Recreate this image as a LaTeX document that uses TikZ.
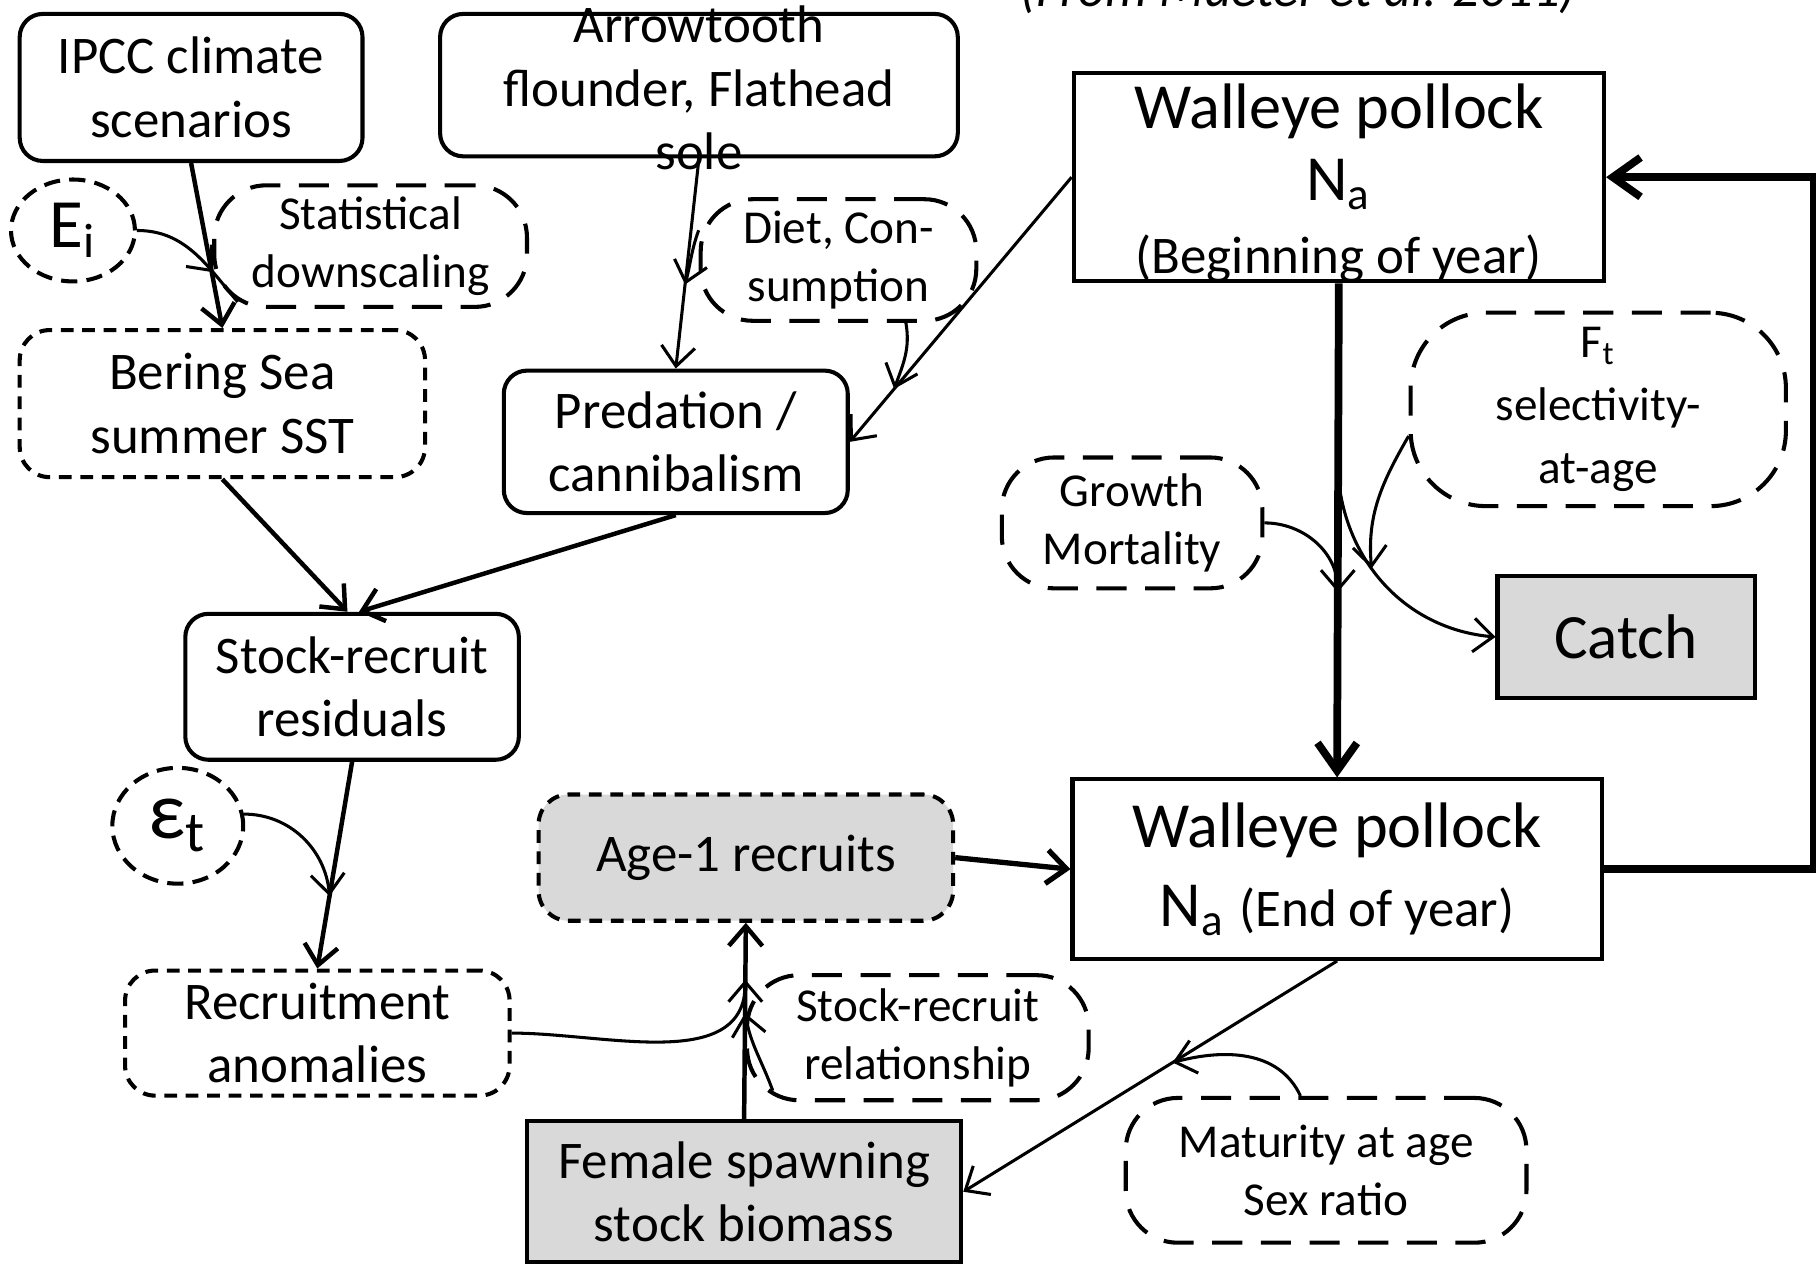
\documentclass[tikz,border=0pt]{standalone}
\usepackage{fontspec}
\setmainfont{Carlito}
\usetikzlibrary{arrows.meta,calc,shapes.geometric,decorations.markings}
\definecolor{fillgrey}{HTML}{D9D9D9}

\begin{document}
\begin{tikzpicture}[x=0.1mm, y=0.1mm,
  >={Straight Barb[length=1.7mm,width=2.9mm]},
  boxbase/.style={line width=1pt, inner sep=0pt, align=center},
  roundbox/.style={boxbase, draw, rounded corners=2mm, font=\fontsize{13}{15.6}\selectfont},
  sqbox/.style={boxbase, draw, font=\fontsize{13}{15.6}\selectfont},
  dotbox/.style={boxbase, draw, rounded corners=2.6mm, dash pattern=on 1.1mm off 0.75mm, font=\fontsize{13}{15.6}\selectfont},
  dashcloud/.style={boxbase, draw, rounded corners=4.5mm, dash pattern=on 2.6mm off 1.6mm, font=\fontsize{11.6}{14.2}\selectfont},
  errvar/.style={boxbase, draw, ellipse, dash pattern=on 1.4mm off 0.8mm},
  greyfill/.style={fill=fillgrey},
  link/.style={->, line width=1.1pt},
  thinlink/.style={->, line width=0.75pt},
  mainflow/.style={-{Straight Barb[length=2.4mm,width=3.4mm]}, line width=1.9pt},
  midarrow/.style={postaction={decorate}, decoration={markings, mark=at position #1 with {\arrow{>}}}},
]
  \useasboundingbox (0,0) rectangle (1568,-1096);
  % source note, cut by the top edge
  \node[font=\itshape\fontsize{13}{15.6}\selectfont, anchor=base] (src) at (1121,-6) {(From Mueter et al. 2011)};

  % climate and predators
  \node[roundbox, minimum width=29.6mm, minimum height=12.7mm] (ipcc) at (165,-75.5) {IPCC climate\\scenarios};
  \node[roundbox, minimum width=44.7mm, minimum height=12.3mm] (arrowbox) at (603.5,-73.5) {};
  \node[font=\fontsize{13}{15.6}\selectfont, align=center] (arrowtxt) at (603.5,-76) {Arrowtooth\\flounder, Flathead\\sole};
  \node[errvar, minimum width=10.7mm, minimum height=8.8mm, font=\fontsize{17}{20}\selectfont] (ei) at (63,-199) {E\textsubscript{i}};
  \node[dashcloud, minimum width=27mm, minimum height=10.5mm] (sd) at (320,-212.5) {Statistical\\downscaling};
  \node[dotbox, minimum width=35mm, minimum height=12.7mm] (sst) at (192,-348.5) {Bering Sea\\summer SST};
  \node[dashcloud, minimum width=23.8mm, minimum height=10.5mm] (diet) at (724,-224.5) {Diet, Con-\\sumption};
  \node[roundbox, minimum width=29.7mm, minimum height=12.3mm] (pred) at (583.5,-381.5) {Predation /\\cannibalism};

  % pollock numbers
  \node[sqbox, minimum width=45.8mm, minimum height=18mm] (wtop) at (1156,-153) {};
  \node[font=\fontsize{15.8}{17.8}\selectfont, align=center] (wtoptxt) at (1156,-158) {Walleye pollock\\N\textsubscript{a}\\{\fontsize{13}{17.8}\selectfont(Beginning of year)}};
  \node[dashcloud, rounded corners=6.5mm, minimum width=32.4mm, minimum height=16.7mm, font=\fontsize{11.6}{15.6}\selectfont] (ft) at (1380,-353.5) {F\textsubscript{t}\\selectivity-\\at-age};
  \node[dashcloud, minimum width=22.5mm, minimum height=11.3mm] (grow) at (977.5,-451.5) {Growth\\Mortality};
  \node[sqbox, greyfill, minimum width=22.2mm, minimum height=10.6mm, font=\fontsize{15.5}{18}\selectfont] (catch) at (1404,-550) {Catch};
  \node[sqbox, minimum width=45.7mm, minimum height=15.5mm, font=\fontsize{15.8}{19.3}\selectfont] (wbot) at (1154.5,-750.5) {Walleye pollock\\N\textsubscript{a} {\fontsize{13}{19.3}\selectfont(End of year)}};

  % recruitment
  \node[roundbox, minimum width=28.8mm, minimum height=12.6mm] (srr) at (304,-593) {Stock-recruit\\residuals};
  \node[errvar, minimum width=11.3mm, minimum height=10mm, font=\fontsize{20}{24}\selectfont] (eps) at (153.5,-713) {ε\textsubscript{t}};
  \node[dotbox, greyfill, minimum width=35.8mm, minimum height=10.9mm] (age1) at (644,-740.5) {Age-1 recruits};
  \node[dotbox, minimum width=33.2mm, minimum height=10.8mm] (ranom) at (274,-892) {Recruitment\\anomalies};
  \node[dashcloud, minimum width=29.5mm, minimum height=10.8mm] (srrel) at (792.5,-896) {Stock-recruit\\relationship};
  \node[sqbox, greyfill, minimum width=37.5mm, minimum height=12.2mm] (fssb) at (642.5,-1029) {Female spawning\\stock biomass};
  \node[dashcloud, minimum width=34.6mm, minimum height=12.5mm] (mat) at (1145,-1010.5) {Maturity at age\\Sex ratio};

  % climate pathway
  \coordinate (sdfoot) at ($(sd.south west)+(22,6)$);
  \draw[link] (ipcc.south) -- (sst.north);
  \draw[thinlink, -, midarrow=0.7] (ei.east) to[out=0, in=130] (sdfoot);
  \draw[link] (sst.south) -- ([xshift=-0.4mm]srr.north);
  \draw[link] (pred.south) -- ([xshift=0.6mm]srr.north);

  % predation pathway
  \draw[thinlink] (arrowbox.south) -- (pred.north);
  \coordinate (preyjoin) at ($(arrowbox.south)!0.6!(pred.north)$);
  \draw[thinlink] (diet.168) to[out=250, in=75] (preyjoin);
  \draw[thinlink] (wtop.west) -- (pred.east);
  \coordinate (cannjoin) at ($(wtop.west)!0.8!(pred.east)$);
  \draw[thinlink] (diet.-43) to[out=-80, in=70] (cannjoin);

  % within the year
  \draw[mainflow] (wtop.south) -- (wbot.north);
  \coordinate (fork) at ($(wtop.south)!0.39!(wbot.north)$);
  \coordinate (growjoin) at ($(wtop.south)!0.625!(wbot.north)$);
  \draw[thinlink] (grow.east) to[out=0, in=90] (growjoin);
  \draw[thinlink] (fork) to[out=-85, in=175] coordinate[pos=0.4] (fjoin) (catch.west);
  \draw[thinlink] (ft.188) to[out=240, in=95] (fjoin);
  \draw[mainflow] (wbot.east) -- ++(181,0) |- (wtop.east);

  % recruitment pathway
  \draw[link] (srr.south) -- (ranom.north);
  \coordinate (epsjoin) at ($(srr.south)!0.65!(ranom.north)$);
  \draw[thinlink] (eps.10) to[out=0, in=95] (epsjoin);
  \draw[link, line width=1.3pt] (age1.east) -- (wbot.west);
  \draw[link] (fssb.north) -- (age1.south);
  \coordinate (anomjoin) at ($(fssb.north)!0.71!(age1.south)$);
  \coordinate (srjoin) at ($(fssb.north)!0.54!(age1.south)$);
  \coordinate (srfoot) at ($(srrel.south west)+(24,10)$);
  \draw[thinlink] (ranom.east) to[out=0, in=-90] (anomjoin);
  \draw[thinlink] (srfoot) to[out=110, in=-80] (srjoin);
  \draw[thinlink] (wbot.south) -- (fssb.east);
  \coordinate (matjoin) at ($(wbot.south)!0.44!(fssb.east)$);
  \draw[thinlink] (mat.109) to[out=115, in=15] (matjoin);
\end{tikzpicture}
\end{document}
